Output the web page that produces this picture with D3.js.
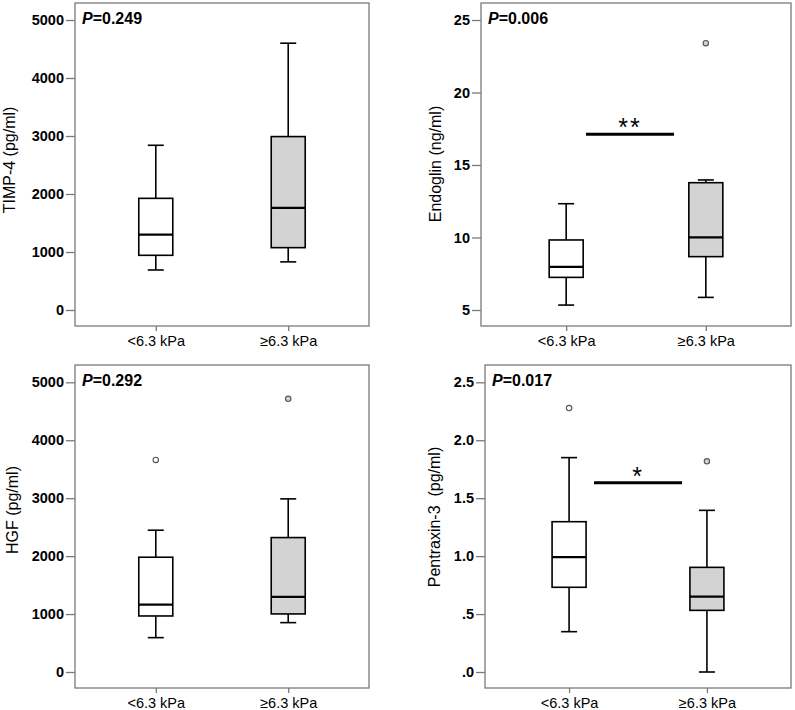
<!DOCTYPE html>
<html>
<head>
<meta charset="utf-8">
<script src="https://cdn.jsdelivr.net/npm/d3@7"></script>
<style>
  html, body { margin: 0; padding: 0; background: #fff; }
  svg { display: block; font-family: "Liberation Sans", Arial, Helvetica, sans-serif; }
</style>
</head>
<body>
<svg id="chart" width="795" height="710"></svg>
<script>
// ---------- DATA ----------
const categories = ["<6.3 kPa", "\u22656.3 kPa"];

// stats per group: [whiskerLow, Q1, median, Q3, whiskerHigh]
const timp4Stats = [[690, 943, 1300, 1925, 2840], [830, 1075, 1760, 2990, 4600]];
const timp4Outliers = [[], []];
const timp4Ticks = [0, 1000, 2000, 3000, 4000, 5000];
const timp4TickLabels = ["0", "1000", "2000", "3000", "4000", "5000"];

const endoglinStats = [[5.34, 7.25, 7.97, 9.83, 12.33], [5.87, 8.68, 10.01, 13.78, 13.97]];
const endoglinOutliers = [[], [23.4]];
const endoglinTicks = [5, 10, 15, 20, 25];
const endoglinTickLabels = ["5", "10", "15", "20", "25"];

const hgfStats = [[593, 967, 1163, 1981, 2447], [852, 1002, 1295, 2320, 2988]];
const hgfOutliers = [[3661], [4715]];
const hgfTicks = [0, 1000, 2000, 3000, 4000, 5000];
const hgfTickLabels = ["0", "1000", "2000", "3000", "4000", "5000"];

const ptx3Stats = [[0.348, 0.731, 0.992, 1.297, 1.85], [0.0, 0.532, 0.65, 0.903, 1.395]];
const ptx3Outliers = [[2.278], [1.818]];
const ptx3Ticks = [0, 0.5, 1.0, 1.5, 2.0, 2.5];
const ptx3TickLabels = [".0", ".5", "1.0", "1.5", "2.0", "2.5"];

const pValues = ["0.249", "0.006", "0.292", "0.017"];
const yTitles = ["TIMP-4 (pg/ml)", "Endoglin (ng/ml)", "HGF (pg/ml)", "Pentraxin-3\u00a0\u00a0(pg/ml)"];
const sigStars = [null, "**", null, "*"];
const sigBarValue = [null, 17.12, null, 1.634];

// ---------- LAYOUT ----------
const panels = [
  { stats: timp4Stats, outliers: timp4Outliers, ticks: timp4Ticks, tickLabels: timp4TickLabels,
    domain: [0, 5000], left: 75, right: 369, top: 3, bottom: 326, y0: 310, y1: 20,
    titleX: 15, titleY: 160 },
  { stats: endoglinStats, outliers: endoglinOutliers, ticks: endoglinTicks, tickLabels: endoglinTickLabels,
    domain: [5, 25], left: 481, right: 791, top: 3, bottom: 326, y0: 310, y1: 20,
    titleX: 441, titleY: 164, barX0: 586, barX1: 674, starX: 630 },
  { stats: hgfStats, outliers: hgfOutliers, ticks: hgfTicks, tickLabels: hgfTickLabels,
    domain: [0, 5000], left: 75, right: 369, top: 365, bottom: 688, y0: 672, y1: 382.3,
    titleX: 18, titleY: 510 },
  { stats: ptx3Stats, outliers: ptx3Outliers, ticks: ptx3Ticks, tickLabels: ptx3TickLabels,
    domain: [0, 2.5], left: 485, right: 791, top: 365, bottom: 688, y0: 672, y1: 382.3,
    titleX: 440, titleY: 517, barX0: 594, barX1: 682, starX: 638 }
];

const svg = d3.select("#chart");
const frameColor = "#7a7a7a";
const fills = ["#ffffff", "#d3d3d3"];
const boxW = 34, capW = 16;

panels.forEach((p, i) => {
  const g = svg.append("g");
  const x = d3.scalePoint().domain(categories).range([p.left, p.right]).padding(0.61);
  const y = d3.scaleLinear().domain(p.domain).range([p.y0, p.y1]);

  // frame
  g.append("rect")
    .attr("x", p.left).attr("y", p.top)
    .attr("width", p.right - p.left).attr("height", p.bottom - p.top)
    .attr("fill", "none").attr("stroke", frameColor).attr("stroke-width", 1.3);

  // y axis
  const yAxis = d3.axisLeft(y).tickValues(p.ticks)
    .tickFormat((d, k) => p.tickLabels[k]).tickSize(9).tickPadding(2);
  const ya = g.append("g").attr("transform", `translate(${p.left},0)`).call(yAxis);
  ya.select(".domain").remove();
  ya.selectAll(".tick line").attr("stroke", frameColor).attr("stroke-width", 1.3);
  ya.selectAll(".tick text").attr("fill", "#000").attr("font-size", 14.5).attr("font-weight", "bold")
    .attr("font-family", "Liberation Sans, Arial, sans-serif");

  // x axis
  const xAxis = d3.axisBottom(x).tickSize(5).tickPadding(5);
  const xa = g.append("g").attr("transform", `translate(0,${p.bottom})`).call(xAxis);
  xa.select(".domain").remove();
  xa.selectAll(".tick line").attr("stroke", frameColor).attr("stroke-width", 1.3);
  xa.selectAll(".tick text").attr("fill", "#000").attr("font-size", 14.5)
    .attr("font-family", "Liberation Sans, Arial, sans-serif");

  // y title
  g.append("text")
    .attr("transform", `translate(${p.titleX},${p.titleY}) rotate(-90)`)
    .attr("text-anchor", "middle").attr("font-size", 16).attr("fill", "#000")
    .text(yTitles[i]);

  // P value
  const pt = g.append("text").attr("x", p.left + 7).attr("y", p.top + 20.5)
    .attr("font-size", 16).attr("font-weight", "bold").attr("fill", "#000");
  pt.append("tspan").attr("font-style", "italic").text("P");
  pt.append("tspan").text("=" + pValues[i]);

  // boxes
  categories.forEach((c, k) => {
    const s = p.stats[k];
    const cx = x(c);
    const bg = g.append("g");
    // whiskers
    bg.append("line").attr("x1", cx).attr("x2", cx).attr("y1", y(s[3])).attr("y2", y(s[4]))
      .attr("stroke", "#000").attr("stroke-width", 1.6);
    bg.append("line").attr("x1", cx).attr("x2", cx).attr("y1", y(s[0])).attr("y2", y(s[1]))
      .attr("stroke", "#000").attr("stroke-width", 1.6);
    bg.append("line").attr("x1", cx - capW / 2).attr("x2", cx + capW / 2).attr("y1", y(s[4])).attr("y2", y(s[4]))
      .attr("stroke", "#000").attr("stroke-width", 1.6);
    bg.append("line").attr("x1", cx - capW / 2).attr("x2", cx + capW / 2).attr("y1", y(s[0])).attr("y2", y(s[0]))
      .attr("stroke", "#000").attr("stroke-width", 1.6);
    // box
    bg.append("rect").attr("x", cx - boxW / 2).attr("y", y(s[3]))
      .attr("width", boxW).attr("height", y(s[1]) - y(s[3]))
      .attr("fill", fills[k]).attr("stroke", "#000").attr("stroke-width", 1.6);
    // median
    bg.append("line").attr("x1", cx - boxW / 2).attr("x2", cx + boxW / 2).attr("y1", y(s[2])).attr("y2", y(s[2]))
      .attr("stroke", "#000").attr("stroke-width", 2.2);
    // outliers
    bg.selectAll("circle").data(p.outliers[k]).enter().append("circle")
      .attr("cx", cx).attr("cy", d => y(d)).attr("r", 2.7)
      .attr("fill", fills[k]).attr("stroke", "#555").attr("stroke-width", 1.1);
  });

  // significance
  if (sigStars[i]) {
    const by = y(sigBarValue[i]);
    g.append("line").attr("x1", p.barX0).attr("x2", p.barX1).attr("y1", by).attr("y2", by)
      .attr("stroke", "#000").attr("stroke-width", 3);
    g.append("text").attr("x", p.starX).attr("y", by + 2)
      .attr("text-anchor", "middle").attr("font-size", 25).attr("letter-spacing", 2)
      .attr("fill", "#000").text(sigStars[i]);
  }
});
</script>
</body>
</html>
